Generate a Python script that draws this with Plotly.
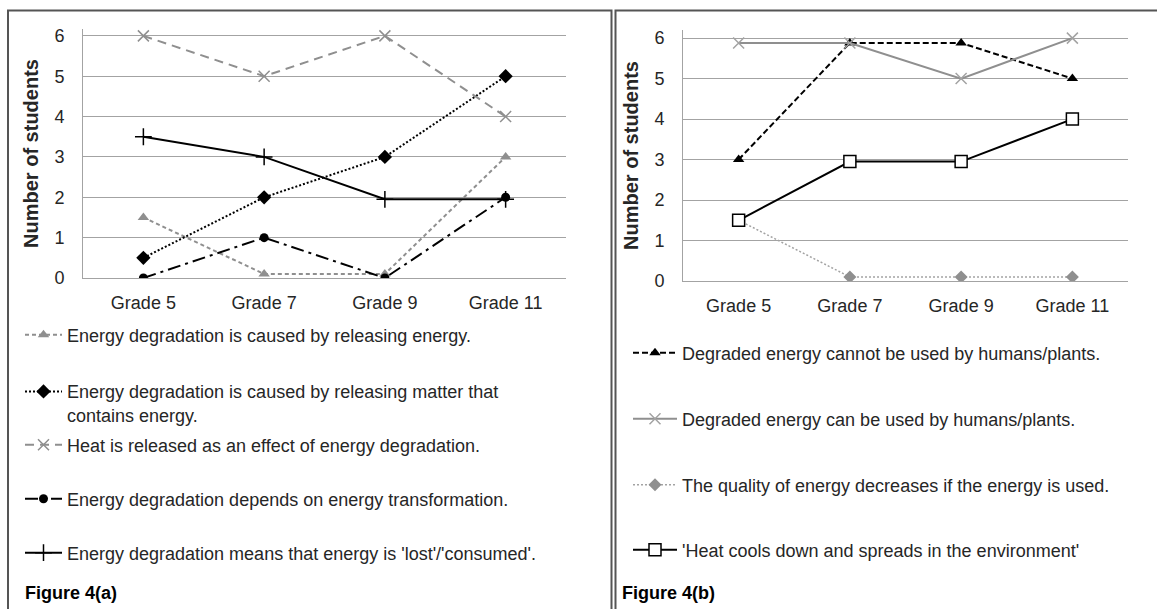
import plotly.graph_objects as go

W, H = 1157, 609

grades = ["Grade 5", "Grade 7", "Grade 9", "Grade 11"]
y_ticks = [0, 1, 2, 3, 4, 5, 6]

# Figure 4(a)
releasing_energy = [1.5, 0.1, 0.1, 3]
releasing_matter = [0.5, 2, 3, 5]
heat_released = [6, 5, 6, 4]
depends_transformation = [0, 1, 0, 2]
lost_consumed = [3.5, 3, 1.95, 1.95]

names_a = [
    "Energy degradation is caused by releasing energy.",
    "Energy degradation is caused by releasing matter that<br>contains energy.",
    "Heat is released as an effect of energy degradation.",
    "Energy degradation depends on energy transformation.",
    "Energy degradation means that energy is 'lost'/'consumed'.",
]

# Figure 4(b)
cannot_be_used = [3, 5.88, 5.88, 5]
can_be_used = [5.88, 5.88, 5, 6]
quality_decreases = [1.5, 0.1, 0.1, 0.1]
heat_cools = [1.5, 2.95, 2.95, 4]

names_b = [
    "Degraded energy cannot be used by humans/plants.",
    "Degraded energy can be used by humans/plants.",
    "The quality of energy decreases if the energy is used.",
    "'Heat cools down and spreads in the environment'",
]

FONT = "Arial, 'Liberation Sans', sans-serif"
TXT = "#262626"
GRAY = "#8f8f8f"
LGRAY = "#a3a3a3"


def px(x):
    return x / W


def py(y):
    return 1 - y / H


fig = go.Figure()

styles_a = [
    dict(line=dict(color=GRAY, width=2, dash="4px,3px"),
         marker=dict(symbol="triangle-up", size=10, color=GRAY)),
    dict(line=dict(color="black", width=2, dash="2px,2px"),
         marker=dict(symbol="diamond", size=11, color="black")),
    dict(line=dict(color=GRAY, width=2, dash="9px,6px"),
         marker=dict(symbol="x-thin", size=11, color=GRAY, line=dict(color=GRAY, width=1.5))),
    dict(line=dict(color="black", width=2, dash="13px,5px,3px,5px"),
         marker=dict(symbol="circle", size=9, color="black")),
    dict(line=dict(color="black", width=2),
         marker=dict(symbol="cross-thin", size=12, color="black", line=dict(color="black", width=1.5))),
]
series_a = [releasing_energy, releasing_matter, heat_released, depends_transformation, lost_consumed]

styles_b = [
    dict(line=dict(color="black", width=2, dash="6px,3px"),
         marker=dict(symbol="triangle-up", size=10, color="black")),
    dict(line=dict(color=GRAY, width=2),
         marker=dict(symbol="x-thin", size=11, color=LGRAY, line=dict(color=LGRAY, width=1.5))),
    dict(line=dict(color=LGRAY, width=1.5, dash="2px,2px"),
         marker=dict(symbol="diamond", size=10, color=GRAY)),
    dict(line=dict(color="black", width=2),
         marker=dict(symbol="square", size=12, color="white", line=dict(color="black", width=1.5))),
]
series_b = [cannot_be_used, can_be_used, quality_decreases, heat_cools]

legend_ids = ["legend", "legend2", "legend3", "legend4", "legend5",
              "legend6", "legend7", "legend8", "legend9"]

for i, (vals, st, nm) in enumerate(zip(series_a, styles_a, names_a)):
    fig.add_trace(go.Scatter(x=grades, y=vals, name=nm, mode="lines+markers",
                             xaxis="x", yaxis="y", legend=legend_ids[i], **st))
for i, (vals, st, nm) in enumerate(zip(series_b, styles_b, names_b)):
    fig.add_trace(go.Scatter(x=grades, y=vals, name=nm, mode="lines+markers",
                             xaxis="x2", yaxis="y2", legend=legend_ids[5 + i], **st))

# legend positions (pixel: left x, center y of first line)
leg_a_y = [335, 390, 445, 499, 553]
leg_b_y = [353, 419, 485, 550]
legends = {}
for i, yy in enumerate(leg_a_y):
    extra = 13.2 if i == 1 else 0
    legends[legend_ids[i]] = dict(
        x=px(20), y=py(yy + extra), xanchor="left", yanchor="middle",
        itemwidth=37, valign="top", bgcolor="rgba(0,0,0,0)",
        font=dict(family=FONT, size=18, color=TXT))
for i, yy in enumerate(leg_b_y):
    legends[legend_ids[5 + i]] = dict(
        x=px(628), y=py(yy), xanchor="left", yanchor="middle",
        itemwidth=44, valign="top", bgcolor="rgba(0,0,0,0)",
        font=dict(family=FONT, size=18, color=TXT))

axis_common_x = dict(type="category", range=[-0.5, 3.5], showgrid=False,
                     showline=True, linecolor=LGRAY, linewidth=1, ticks="",
                     tickfont=dict(family=FONT, size=18, color=TXT),
                     ticklabelstandoff=8, fixedrange=True, automargin=False)
axis_common_y = dict(tickvals=y_ticks, showgrid=True, gridcolor=LGRAY, gridwidth=1,
                     showline=True, linecolor=LGRAY, linewidth=1, ticks="",
                     zeroline=False,
                     tickfont=dict(family=FONT, size=18, color=TXT),
                     ticklabelstandoff=14, fixedrange=True, automargin=False)

fig.update_layout(
    width=W, height=H,
    margin=dict(l=0, r=0, t=0, b=0),
    paper_bgcolor="white", plot_bgcolor="white",
    showlegend=True,
    xaxis=dict(domain=[px(83), px(566)], anchor="y", **axis_common_x),
    yaxis=dict(domain=[py(278), py(29)], anchor="x", range=[0, 6.17],
               title=dict(text="<b>Number of students</b>", standoff=10,
                          font=dict(family=FONT, size=20, color=TXT)),
               **axis_common_y),
    xaxis2=dict(domain=[px(683), px(1128)], anchor="y2", **axis_common_x),
    yaxis2=dict(domain=[py(281), py(30)], anchor="x2", range=[0, 6.2],
                title=dict(text="<b>Number of students</b>", standoff=10,
                           font=dict(family=FONT, size=20, color=TXT)),
                **axis_common_y),
    **legends,
)

# panel borders
border = dict(color="#555555", width=2)
fig.add_shape(type="rect", xref="paper", yref="paper",
              x0=px(8), x1=px(611.5), y0=py(615), y1=py(10.5), line=border, layer="below")
fig.add_shape(type="rect", xref="paper", yref="paper",
              x0=px(615.5), x1=px(1165), y0=py(615), y1=py(10.5), line=border, layer="below")

fig.add_annotation(text="<b>Figure 4(a)</b>", xref="paper", yref="paper",
                   x=px(23), y=py(593), xanchor="left", yanchor="middle", showarrow=False,
                   font=dict(family=FONT, size=18, color="black"))
fig.add_annotation(text="<b>Figure 4(b)</b>", xref="paper", yref="paper",
                   x=px(620), y=py(593), xanchor="left", yanchor="middle", showarrow=False,
                   font=dict(family=FONT, size=18, color="black"))

fig.write_html("out.html", config={"displayModeBar": False},
               post_script="document.body.style.margin='0';document.body.style.overflow='hidden';")
